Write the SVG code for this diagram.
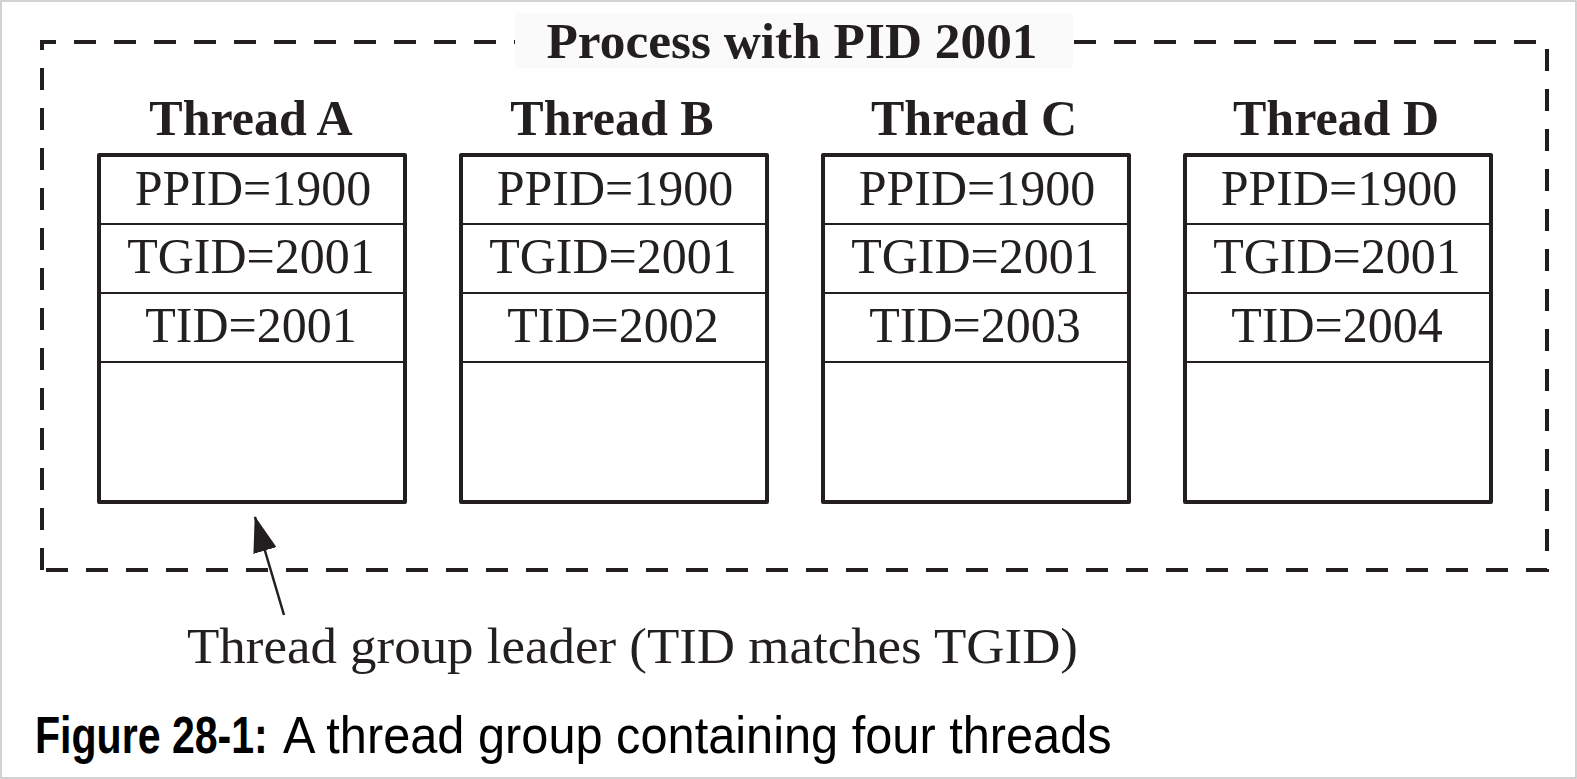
<svg xmlns="http://www.w3.org/2000/svg" width="1577" height="779" viewBox="0 0 1577 779">
  <style>
    .frame { fill: #ffffff; stroke: #c4c4c4; stroke-width: 1.5; }
    .process { fill: none; stroke: #231f20; stroke-width: 4; stroke-dasharray: 22 18; }
    .title-bg { fill: #fafafa; }
    .box { fill: #ffffff; stroke: #231f20; stroke-width: 4; stroke-linejoin: round; }
    .row { stroke: #231f20; stroke-width: 2; }
    .head { font-family: "Liberation Serif", "Times New Roman", serif; font-weight: bold; font-size: 50px; fill: #231f20; text-anchor: middle; }
    .field { font-family: "Liberation Serif", "Times New Roman", serif; font-size: 50px; fill: #231f20; text-anchor: middle; }
    .note { font-family: "Liberation Serif", "Times New Roman", serif; font-size: 51px; fill: #231f20; }
    .cap { font-family: "Liberation Sans", Arial, sans-serif; font-size: 52px; fill: #000000; }
    .cap-b { font-weight: bold; }
    .arrow { stroke: #231f20; stroke-width: 2.5; fill: none; }
  </style>
  <defs>
    <marker id="tri" markerUnits="userSpaceOnUse" markerWidth="36" markerHeight="24" viewBox="0 0 36 24" refX="35" refY="12" orient="auto">
      <path d="M0,0 L36,12 L0,24 z" fill="#231f20"/>
    </marker>
  </defs>

  <rect class="frame" x="1" y="1" width="1575" height="777"/>

  <!-- process boundary -->
  <g id="process">
    <path class="process" d="M42,570 L42,42 L1547,42 L1547,570 Z"/>
    <rect class="title-bg" x="515" y="13" width="558" height="55"/>
    <text class="head" x="792" y="58" textLength="491" lengthAdjust="spacingAndGlyphs">Process with PID 2001</text>
  </g>

  <g id="thread-a">
    <text class="head" x="251" y="135">Thread A</text>
    <rect class="box" x="99" y="155" width="306" height="347"/>
    <line class="row" x1="99" y1="224" x2="405" y2="224"/>
    <line class="row" x1="99" y1="293" x2="405" y2="293"/>
    <line class="row" x1="99" y1="362" x2="405" y2="362"/>
    <text class="field" x="253" y="205">PPID=1900</text>
    <text class="field" x="251" y="273">TGID=2001</text>
    <text class="field" x="251" y="342">TID=2001</text>
  </g>

  <g id="thread-b">
    <text class="head" x="612" y="135">Thread B</text>
    <rect class="box" x="461" y="155" width="306" height="347"/>
    <line class="row" x1="461" y1="224" x2="767" y2="224"/>
    <line class="row" x1="461" y1="293" x2="767" y2="293"/>
    <line class="row" x1="461" y1="362" x2="767" y2="362"/>
    <text class="field" x="615" y="205">PPID=1900</text>
    <text class="field" x="613" y="273">TGID=2001</text>
    <text class="field" x="613" y="342">TID=2002</text>
  </g>

  <g id="thread-c">
    <text class="head" x="974" y="135">Thread C</text>
    <rect class="box" x="823" y="155" width="306" height="347"/>
    <line class="row" x1="823" y1="224" x2="1129" y2="224"/>
    <line class="row" x1="823" y1="293" x2="1129" y2="293"/>
    <line class="row" x1="823" y1="362" x2="1129" y2="362"/>
    <text class="field" x="977" y="205">PPID=1900</text>
    <text class="field" x="975" y="273">TGID=2001</text>
    <text class="field" x="975" y="342">TID=2003</text>
  </g>

  <g id="thread-d">
    <text class="head" x="1336" y="135">Thread D</text>
    <rect class="box" x="1185" y="155" width="306" height="347"/>
    <line class="row" x1="1185" y1="224" x2="1491" y2="224"/>
    <line class="row" x1="1185" y1="293" x2="1491" y2="293"/>
    <line class="row" x1="1185" y1="362" x2="1491" y2="362"/>
    <text class="field" x="1339" y="205">PPID=1900</text>
    <text class="field" x="1337" y="273">TGID=2001</text>
    <text class="field" x="1337" y="342">TID=2004</text>
  </g>

  <g id="connectors">
    <path class="arrow" d="M284,615 L255,517" marker-end="url(#tri)"/>
  </g>

  <g id="leader-note">
    <text class="note" x="187" y="663" textLength="891" lengthAdjust="spacingAndGlyphs">Thread group leader (TID matches TGID)</text>
  </g>

  <!-- caption: condensed horizontally to the narrow face's width -->
  <g id="caption">
    <text class="cap cap-b" transform="translate(35,753) scale(0.79,1)">Figure 28-1:</text>
    <text class="cap" transform="translate(283,753) scale(0.937,1)">A thread group containing four threads</text>
  </g>
</svg>
